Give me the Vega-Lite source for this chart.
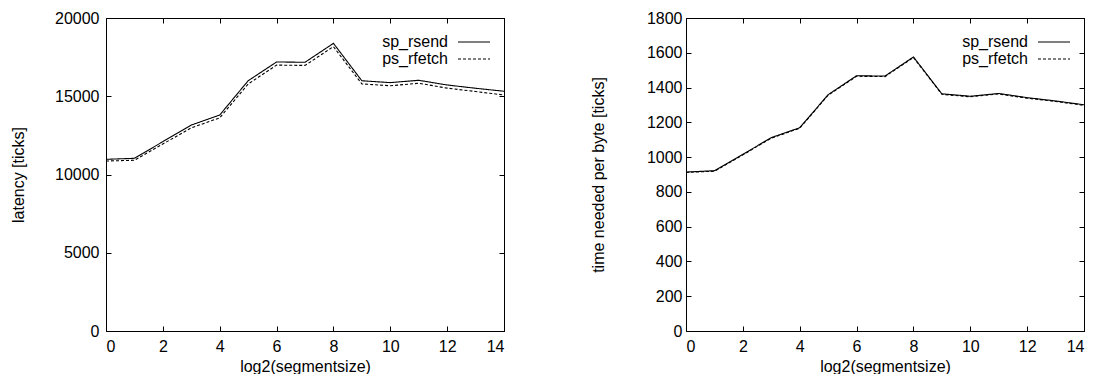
{
  "$schema": "https://vega.github.io/schema/vega-lite/v6.json",
  "padding": {"left": 10, "top": 9, "right": 0, "bottom": 0},
  "background": "white",
  "config": {
    "font": "Liberation Sans",
    "view": {"stroke": "black", "strokeWidth": 1},
    "axis": {
      "grid": false,
      "domainColor": "black",
      "tickColor": "black",
      "tickSize": -5,
      "labelFont": "Liberation Sans",
      "titleFont": "Liberation Sans",
      "labelFontSize": 16,
      "titleFontSize": 16,
      "titleFontWeight": "normal",
      "labelColor": "black",
      "titleColor": "black",
      "format": "d"
    },
    "legend": {
      "labelFont": "Liberation Sans",
      "labelFontSize": 16,
      "labelColor": "black"
    }
  },
  "data": {
    "values": [
      {"s": 0, "series": "sp_rsend", "latency": 10970, "perbyte": 914},
      {"s": 1, "series": "sp_rsend", "latency": 11035, "perbyte": 922},
      {"s": 2, "series": "sp_rsend", "latency": 12100, "perbyte": 1016},
      {"s": 3, "series": "sp_rsend", "latency": 13160, "perbyte": 1112},
      {"s": 4, "series": "sp_rsend", "latency": 13800, "perbyte": 1169},
      {"s": 5, "series": "sp_rsend", "latency": 15990, "perbyte": 1359},
      {"s": 6, "series": "sp_rsend", "latency": 17190, "perbyte": 1468},
      {"s": 7, "series": "sp_rsend", "latency": 17170, "perbyte": 1466},
      {"s": 8, "series": "sp_rsend", "latency": 18380, "perbyte": 1576},
      {"s": 9, "series": "sp_rsend", "latency": 15990, "perbyte": 1364},
      {"s": 10, "series": "sp_rsend", "latency": 15870, "perbyte": 1350},
      {"s": 11, "series": "sp_rsend", "latency": 16020, "perbyte": 1366},
      {"s": 12, "series": "sp_rsend", "latency": 15720, "perbyte": 1342},
      {"s": 13, "series": "sp_rsend", "latency": 15510, "perbyte": 1323},
      {"s": 14, "series": "sp_rsend", "latency": 15320, "perbyte": 1301},
      {"s": 0, "series": "ps_rfetch", "latency": 10860, "perbyte": 912},
      {"s": 1, "series": "ps_rfetch", "latency": 10910, "perbyte": 919},
      {"s": 2, "series": "ps_rfetch", "latency": 11950, "perbyte": 1013},
      {"s": 3, "series": "ps_rfetch", "latency": 12980, "perbyte": 1109},
      {"s": 4, "series": "ps_rfetch", "latency": 13620, "perbyte": 1166},
      {"s": 5, "series": "ps_rfetch", "latency": 15780, "perbyte": 1356},
      {"s": 6, "series": "ps_rfetch", "latency": 16990, "perbyte": 1465},
      {"s": 7, "series": "ps_rfetch", "latency": 16970, "perbyte": 1463},
      {"s": 8, "series": "ps_rfetch", "latency": 18170, "perbyte": 1573},
      {"s": 9, "series": "ps_rfetch", "latency": 15790, "perbyte": 1361},
      {"s": 10, "series": "ps_rfetch", "latency": 15670, "perbyte": 1347},
      {"s": 11, "series": "ps_rfetch", "latency": 15830, "perbyte": 1363},
      {"s": 12, "series": "ps_rfetch", "latency": 15520, "perbyte": 1339},
      {"s": 13, "series": "ps_rfetch", "latency": 15300, "perbyte": 1320},
      {"s": 14, "series": "ps_rfetch", "latency": 15080, "perbyte": 1298}
    ]
  },
  "hconcat": [
    {
      "width": 398,
      "height": 313,
      "layer": [
        {
          "mark": {"type": "line", "color": "black", "strokeWidth": 1.1},
          "encoding": {
            "x": {"field": "s", "type": "quantitative", "scale": {"domain": [0, 14], "nice": false},
              "axis": {"title": "log2(segmentsize)", "values": [0, 2, 4, 6, 8, 10, 12, 14], "labelPadding": 12, "titlePadding": 4}},
            "y": {"field": "latency", "type": "quantitative", "scale": {"domain": [0, 20000], "nice": false},
              "axis": {"title": "latency [ticks]", "values": [0, 5000, 10000, 15000, 20000], "labelPadding": 12, "titlePadding": 28}},
            "strokeDash": {"field": "series", "type": "nominal",
              "scale": {"domain": ["sp_rsend", "ps_rfetch"], "range": [[1, 0], [3, 2]]},
              "legend": {"title": null, "orient": "none", "legendX": 359, "legendY": 15, "symbolType": "M-2,0H2", "symbolSize": 256, "symbolStrokeColor": "black", "symbolStrokeWidth": 1.1, "labelAlign": "right", "labelOffset": -35, "rowPadding": 0}}
          }
        },
        {
          "mark": {"type": "line", "opacity": 0},
          "encoding": {
            "x": {"field": "s", "type": "quantitative", "axis": {"orient": "top", "labels": false, "title": null, "values": [0, 2, 4, 6, 8, 10, 12, 14]}},
            "y": {"field": "latency", "type": "quantitative", "axis": {"orient": "right", "labels": false, "title": null, "values": [0, 5000, 10000, 15000, 20000]}}
          }
        }
      ],
      "resolve": {"axis": {"x": "independent", "y": "independent"}}
    },
    {
      "width": 398,
      "height": 313,
      "layer": [
        {
          "mark": {"type": "line", "color": "black", "strokeWidth": 1.1},
          "encoding": {
            "x": {"field": "s", "type": "quantitative", "scale": {"domain": [0, 14], "nice": false},
              "axis": {"title": "log2(segmentsize)", "values": [0, 2, 4, 6, 8, 10, 12, 14], "labelPadding": 12, "titlePadding": 4}},
            "y": {"field": "perbyte", "type": "quantitative", "scale": {"domain": [0, 1800], "nice": false},
              "axis": {"title": "time needed per byte [ticks]", "values": [0, 200, 400, 600, 800, 1000, 1200, 1400, 1600, 1800], "labelPadding": 9, "titlePadding": 40}},
            "strokeDash": {"field": "series", "type": "nominal",
              "scale": {"domain": ["sp_rsend", "ps_rfetch"], "range": [[1, 0], [3, 2]]},
              "legend": {"title": null, "orient": "none", "legendX": 359, "legendY": 15, "symbolType": "M-2,0H2", "symbolSize": 256, "symbolStrokeColor": "black", "symbolStrokeWidth": 1.1, "labelAlign": "right", "labelOffset": -35, "rowPadding": 0}}
          }
        },
        {
          "mark": {"type": "line", "opacity": 0},
          "encoding": {
            "x": {"field": "s", "type": "quantitative", "axis": {"orient": "top", "labels": false, "title": null, "values": [0, 2, 4, 6, 8, 10, 12, 14]}},
            "y": {"field": "perbyte", "type": "quantitative", "axis": {"orient": "right", "labels": false, "title": null, "values": [0, 200, 400, 600, 800, 1000, 1200, 1400, 1600, 1800]}}
          }
        }
      ],
      "resolve": {"axis": {"x": "independent", "y": "independent"}}
    }
  ],
  "bounds": "flush",
  "spacing": 182,
  "resolve": {"legend": {"strokeDash": "independent"}, "scale": {"strokeDash": "independent"}}
}
